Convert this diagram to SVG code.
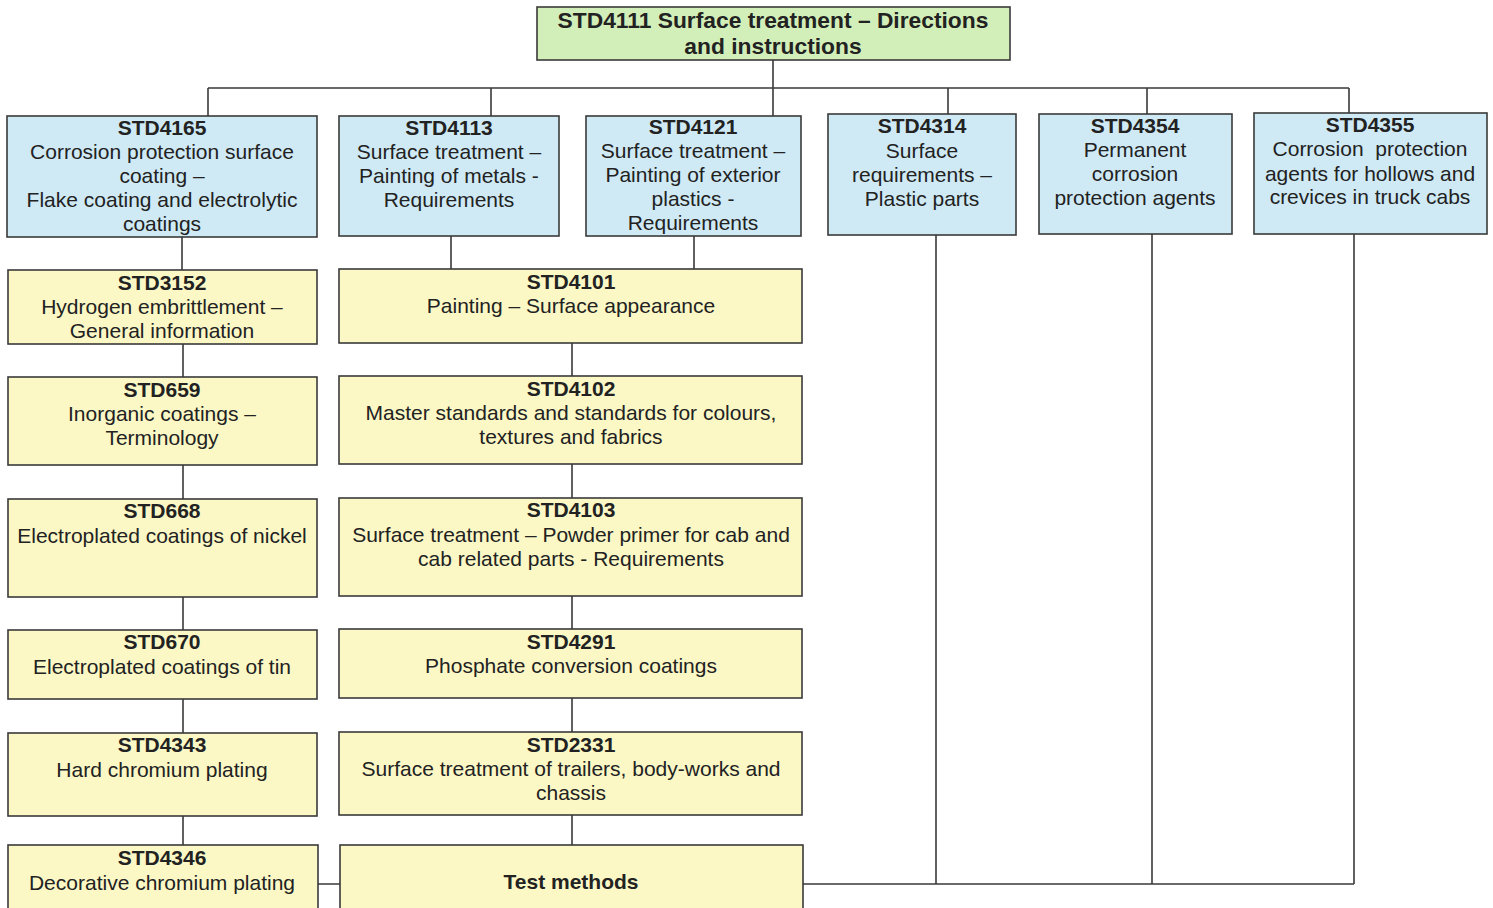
<svg xmlns="http://www.w3.org/2000/svg" width="1493" height="908" viewBox="0 0 1493 908">
<style>
.box{stroke:#3a3a3a;stroke-width:1.6}
.g{fill:#d3efb9}
.b{fill:#cfeaf5}
.y{fill:#fbf8c6}
text{font-family:"Liberation Sans",Arial,sans-serif;font-size:21px;fill:#222222;text-anchor:middle}
.t{font-weight:bold}
.top{font-weight:bold;font-size:22.8px}
.c{fill:none;stroke:#3a3a3a;stroke-width:1.6}
</style>
<rect width="1493" height="908" fill="#ffffff"/>
<g id="connectors">
<path class="c" d="M773 60V88M208 88H1349M208 88V116M491 88V116M773 88V116M948 88V114M1147 88V114M1349 88V113"/>
<path class="c" d="M182 237V270M183 344V377M183 465V499M183 597V630M183 699V733M183 816V845"/>
<path class="c" d="M451 236V269M694 236V269M572 343V376M572 464V498M572 596V629M572 698V732M572 815V845"/>
<path class="c" d="M318 884H340M803 884H1354M936 235V884M1152 234V884M1354 234V884"/>
</g>
<g id="STD4111"><rect class="box g" x="537" y="7" width="473" height="53"/><text class="top" x="773" y="28">STD4111 Surface treatment – Directions</text><text class="top" x="773" y="54">and instructions</text></g>
<g id="STD4165"><rect class="box b" x="7" y="116" width="310" height="121"/><text class="t" x="162" y="135">STD4165</text><text x="162" y="159">Corrosion protection surface</text><text x="162" y="183">coating –</text><text x="162" y="207">Flake coating and electrolytic</text><text x="162" y="231">coatings</text></g>
<g id="STD4113"><rect class="box b" x="339" y="116" width="220" height="120"/><text class="t" x="449" y="135">STD4113</text><text x="449" y="159">Surface treatment –</text><text x="449" y="183">Painting of metals -</text><text x="449" y="207">Requirements</text></g>
<g id="STD4121"><rect class="box b" x="586" y="116" width="215" height="120"/><text class="t" x="693" y="134">STD4121</text><text x="693" y="158">Surface treatment –</text><text x="693" y="182">Painting of exterior</text><text x="693" y="206">plastics -</text><text x="693" y="230">Requirements</text></g>
<g id="STD4314"><rect class="box b" x="828" y="114" width="188" height="121"/><text class="t" x="922" y="133">STD4314</text><text x="922" y="158">Surface</text><text x="922" y="182">requirements –</text><text x="922" y="206">Plastic parts</text></g>
<g id="STD4354"><rect class="box b" x="1039" y="114" width="193" height="120"/><text class="t" x="1135" y="133">STD4354</text><text x="1135" y="157">Permanent</text><text x="1135" y="181">corrosion</text><text x="1135" y="205">protection agents</text></g>
<g id="STD4355"><rect class="box b" x="1254" y="113" width="233" height="121"/><text class="t" x="1370" y="132">STD4355</text><text x="1370" y="156" xml:space="preserve">Corrosion  protection</text><text x="1370" y="181">agents for hollows and</text><text x="1370" y="204">crevices in truck cabs</text></g>
<g id="STD3152"><rect class="box y" x="8" y="270" width="309" height="74"/><text class="t" x="162" y="290">STD3152</text><text x="162" y="314">Hydrogen embrittlement –</text><text x="162" y="338">General information</text></g>
<g id="STD659"><rect class="box y" x="8" y="377" width="309" height="88"/><text class="t" x="162" y="397">STD659</text><text x="162" y="421">Inorganic coatings –</text><text x="162" y="445">Terminology</text></g>
<g id="STD668"><rect class="box y" x="8" y="499" width="309" height="98"/><text class="t" x="162" y="518">STD668</text><text x="162" y="543">Electroplated coatings of nickel</text></g>
<g id="STD670"><rect class="box y" x="8" y="630" width="309" height="69"/><text class="t" x="162" y="649">STD670</text><text x="162" y="674">Electroplated coatings of tin</text></g>
<g id="STD4343"><rect class="box y" x="8" y="733" width="309" height="83"/><text class="t" x="162" y="752">STD4343</text><text x="162" y="777">Hard chromium plating</text></g>
<g id="STD4346"><rect class="box y" x="8" y="845" width="310" height="70"/><text class="t" x="162" y="865">STD4346</text><text x="162" y="890">Decorative chromium plating</text></g>
<g id="STD4101"><rect class="box y" x="339" y="269" width="463" height="74"/><text class="t" x="571" y="289">STD4101</text><text x="571" y="313">Painting – Surface appearance</text></g>
<g id="STD4102"><rect class="box y" x="339" y="376" width="463" height="88"/><text class="t" x="571" y="396">STD4102</text><text x="571" y="420">Master standards and standards for colours,</text><text x="571" y="444">textures and fabrics</text></g>
<g id="STD4103"><rect class="box y" x="339" y="498" width="463" height="98"/><text class="t" x="571" y="517">STD4103</text><text x="571" y="542">Surface treatment – Powder primer for cab and</text><text x="571" y="566">cab related parts - Requirements</text></g>
<g id="STD4291"><rect class="box y" x="339" y="629" width="463" height="69"/><text class="t" x="571" y="649">STD4291</text><text x="571" y="673">Phosphate conversion coatings</text></g>
<g id="STD2331"><rect class="box y" x="339" y="732" width="463" height="83"/><text class="t" x="571" y="752">STD2331</text><text x="571" y="776">Surface treatment of trailers, body-works and</text><text x="571" y="800">chassis</text></g>
<g id="TestMethods"><rect class="box y" x="340" y="845" width="463" height="70"/><text class="t" x="571" y="889">Test methods</text></g>
</svg>
